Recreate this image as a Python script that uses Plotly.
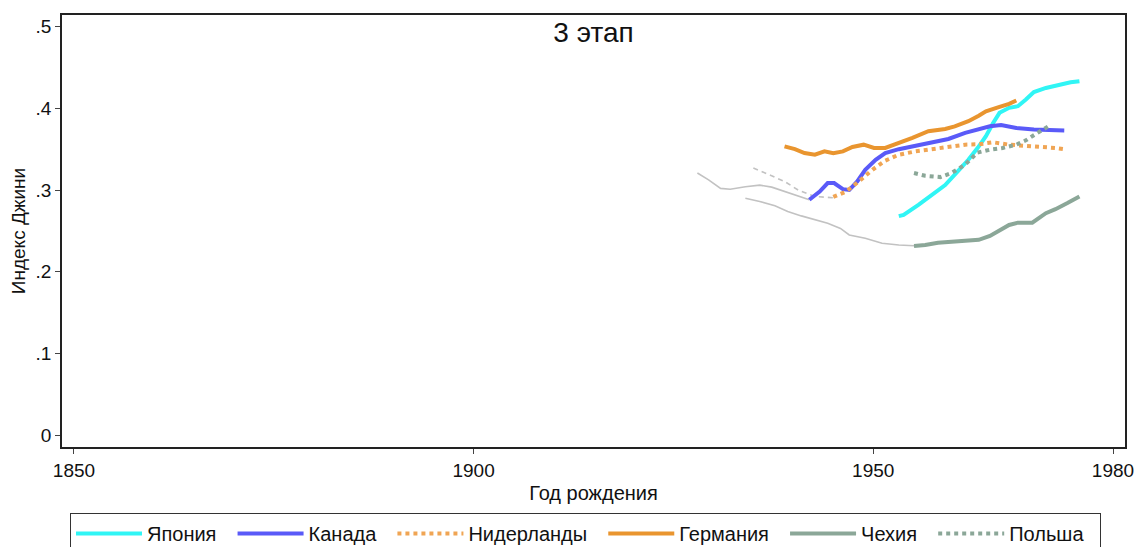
import plotly.graph_objects as go

# Gini index by birth cohort, stage 3
japan_year = [1953.2, 1953.8, 1955.7, 1957.3, 1959.0, 1960.6, 1961.9, 1963.1, 1964.1, 1965.0,
              1965.8, 1967.0, 1968.1, 1969.1, 1970.1, 1971.6, 1973.2, 1974.7, 1975.8]
japan_gini = [0.268, 0.2695, 0.282, 0.294, 0.306, 0.323, 0.337, 0.352, 0.366, 0.382,
              0.3945, 0.4006, 0.4026, 0.4108, 0.420, 0.425, 0.429, 0.432, 0.4333]

canada_year = [1942.0, 1943.3, 1944.3, 1945.1, 1946.2, 1947.0, 1948.0, 1949.0, 1950.3, 1951.5,
               1953.2, 1955.3, 1957.3, 1959.4, 1961.5, 1963.2, 1964.6, 1966.0, 1967.9, 1970.1,
               1972.0, 1973.9]
canada_gini = [0.288, 0.298, 0.3085, 0.3085, 0.301, 0.300, 0.3105, 0.3248, 0.337, 0.3453,
               0.350, 0.354, 0.3576, 0.3625, 0.370, 0.3739, 0.378, 0.3797, 0.376, 0.374,
               0.373, 0.373]

netherlands_year = [1945.0, 1946.6, 1948.2, 1949.9, 1951.5, 1953.2, 1955.3, 1957.3, 1959.4, 1961.5,
                    1963.2, 1965.0, 1967.0, 1969.1, 1971.2, 1972.8, 1973.9]
netherlands_gini = [0.2915, 0.298, 0.3105, 0.3248, 0.336, 0.3432, 0.3473, 0.350, 0.3535, 0.3555,
                    0.356, 0.3584, 0.3555, 0.3543, 0.3527, 0.3515, 0.350]

germany_year = [1938.9, 1940.2, 1941.4, 1942.7, 1943.9, 1945.0, 1946.2, 1947.4, 1948.8, 1950.1,
                1951.5, 1953.6, 1954.9, 1956.9, 1959.0, 1960.2, 1961.9, 1963.2, 1964.1, 1965.8,
                1967.0, 1967.9]
germany_gini = [0.3535, 0.350, 0.3453, 0.3432, 0.3473, 0.345, 0.3473, 0.3527, 0.3555, 0.3515,
                0.3515, 0.3584, 0.3638, 0.372, 0.3748, 0.378, 0.3842, 0.391, 0.3964, 0.4018,
                0.4055, 0.4096]

czech_year = [1955.1, 1956.5, 1958.1, 1959.8, 1961.5, 1963.2, 1964.6, 1965.8, 1967.0, 1968.1,
              1969.9, 1971.6, 1972.8, 1974.3, 1975.8]
czech_gini = [0.2315, 0.2327, 0.2355, 0.2368, 0.238, 0.239, 0.2437, 0.250, 0.2572, 0.260,
              0.260, 0.2716, 0.2765, 0.284, 0.292]

poland_year = [1955.1, 1956.5, 1958.4, 1959.8, 1961.5, 1963.0, 1964.6, 1966.2, 1967.9, 1969.1,
               1970.4, 1971.6, 1971.9]
poland_gini = [0.3208, 0.3174, 0.3158, 0.3208, 0.331, 0.3457, 0.3494, 0.3515, 0.3555, 0.3608,
               0.369, 0.376, 0.378]

# Earlier-stage cohorts drawn in grey behind the stage-3 series
early_canada_year = [1928.0, 1929.4, 1930.9, 1932.1, 1934.0, 1935.8, 1937.3, 1938.9, 1940.6, 1942.0]
early_canada_gini = [0.3208, 0.3125, 0.302, 0.301, 0.304, 0.306, 0.3035, 0.298, 0.292, 0.288]

early_netherlands_year = [1935.0, 1936.9, 1938.9, 1940.6, 1942.7, 1945.0]
early_netherlands_gini = [0.327, 0.3187, 0.3105, 0.300, 0.292, 0.2905]

early_czech_year = [1934.0, 1935.8, 1937.7, 1939.3, 1941.0, 1942.7, 1944.3, 1945.9, 1947.0, 1949.0,
                    1951.1, 1953.2, 1955.1]
early_czech_gini = [0.290, 0.286, 0.2806, 0.2736, 0.2683, 0.2634, 0.2593, 0.253, 0.245, 0.241,
                    0.2347, 0.2327, 0.2318]

y_ticks = [0, 0.1, 0.2, 0.3, 0.4, 0.5]
y_tick_labels = ["0", ".1", ".2", ".3", ".4", ".5"]
x_ticks = [1850, 1900, 1950, 1980]

FONT = "Liberation Sans, Arial, sans-serif"
GREY = "#c2c2c2"
PAD = "\u00a0" * 2  # extra room after each legend label

fig = go.Figure()

for yr, g, dash in [(early_canada_year, early_canada_gini, "solid"),
                    (early_netherlands_year, early_netherlands_gini, "5px,4px"),
                    (early_czech_year, early_czech_gini, "solid")]:
    fig.add_trace(go.Scatter(x=yr, y=g, mode="lines", showlegend=False, hoverinfo="skip",
                             line=dict(color=GREY, width=1.6, dash=dash)))

series = [
    ("Япония", japan_year, japan_gini, "#30f5f5", "solid"),
    ("Канада", canada_year, canada_gini, "#5a5af8", "solid"),
    ("Нидерланды", netherlands_year, netherlands_gini, "#f0a554", "dot"),
    ("Германия", germany_year, germany_gini, "#e9952f", "solid"),
    ("Чехия", czech_year, czech_gini, "#8ba798", "solid"),
    ("Польша", poland_year, poland_gini, "#8ba798", "dot"),
]
for name, yr, g, color, dash in series:
    fig.add_trace(go.Scatter(x=yr, y=g, mode="lines", name=name + PAD,
                             line=dict(color=color, width=4, dash=dash)))

axis_common = dict(showline=True, linecolor="#222", linewidth=1.5, mirror=True,
                   showgrid=False, zeroline=False, ticks="outside", ticklen=5,
                   tickwidth=1.2, tickcolor="#444",
                   tickfont=dict(family=FONT, size=19, color="#111"))

fig.update_layout(
    width=1145, height=547,
    margin=dict(l=62, r=11, t=15, b=100),
    paper_bgcolor="white", plot_bgcolor="white",
    font=dict(family=FONT, size=19, color="#111"),
    title=dict(text="3 этап", x=0.5, xref="paper", xanchor="center",
               y=1 - 32 / 547, yanchor="middle",
               font=dict(family=FONT, size=28, color="#111")),
    xaxis=dict(range=[1848.5, 1981.5], tickvals=x_ticks,
               title=dict(text="Год рождения", standoff=6,
                          font=dict(family=FONT, size=20)),
               **axis_common),
    yaxis=dict(range=[-0.0147, 0.5143], tickvals=y_ticks, ticktext=y_tick_labels,
               title=dict(text="Индекс Джини", standoff=5,
                          font=dict(family=FONT, size=19)),
               **axis_common),
    legend=dict(orientation="h", xref="container", yref="container",
                x=70 / 1145, xanchor="left", y=1 - 513 / 547, yanchor="top",
                bordercolor="#333", borderwidth=1, bgcolor="white",
                itemwidth=66,
                font=dict(family=FONT, size=20, color="#111")),
)

fig.write_html("out.html")
